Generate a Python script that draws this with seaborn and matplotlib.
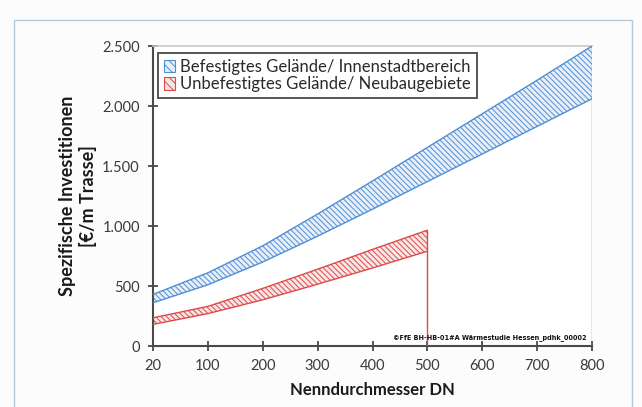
import matplotlib
matplotlib.use("Agg")
import matplotlib.pyplot as plt
import matplotlib.patches as mpatches
import numpy as np
import pandas as pd
import seaborn as sns

# Nominal diameters (category axis)
dn_labels = ["20", "100", "200", "300", "400", "500", "600", "700", "800"]

# Paved ground / inner city: specific investment band [€/m route]
paved_low = [360, 510, 700, 915, 1140, 1370, 1600, 1830, 2060]
paved_high = [430, 610, 835, 1100, 1375, 1655, 1935, 2215, 2500]

# Unpaved ground / new development areas (up to DN 500)
unpaved_low = [180, 270, 385, 515, 650, 790]
unpaved_high = [235, 330, 480, 640, 805, 965]

y_ticks = [0, 500, 1000, 1500, 2000, 2500]
y_tick_labels = ["0", "500", "1.000", "1.500", "2.000", "2.500"]

legend_labels = ["Befestigtes Gelände/ Innenstadtbereich",
                 "Unbefestigtes Gelände/ Neubaugebiete"]

sns.set_theme(style="white")
plt.rcParams["font.family"] = ["Lato", "DejaVu Sans"]
plt.rcParams["hatch.linewidth"] = 0.7

blue = "#4f8fd6"
red = "#de4a4a"

fig = plt.figure(figsize=(6.42, 4.07), dpi=100)
fig.patch.set_facecolor("#fcfcfc")

# thin outer frame of the chart object
fig.patches.append(mpatches.Rectangle((14 / 642, -0.01), (632 - 14) / 642, 1 - 20 / 407 + 0.01,
                                      transform=fig.transFigure, fill=False,
                                      edgecolor="#b7c9dc", linewidth=1.0))

ax = fig.add_axes([153 / 642, 1 - 346 / 407, (592 - 153) / 642, (346 - 46) / 407])
ax.set_facecolor("white")

pos_p = np.arange(len(paved_low))
pos_u = np.arange(len(unpaved_low))

df_p = pd.DataFrame({"pos": pos_p, "low": paved_low, "high": paved_high})
df_u = pd.DataFrame({"pos": pos_u, "low": unpaved_low, "high": unpaved_high})

# hatched bands
ax.fill_between(df_p["pos"], df_p["low"], df_p["high"], facecolor="#e8eff8",
                edgecolor=blue, hatch="\\\\\\\\\\\\", linewidth=0, zorder=2)
ax.fill_between(df_u["pos"], df_u["low"], df_u["high"], facecolor="#f8e6e6",
                edgecolor=red, hatch="\\\\\\\\\\\\", linewidth=0, zorder=2)

# band outlines
for df, c in ((df_p, blue), (df_u, red)):
    sns.lineplot(data=df, x="pos", y="low", color=c, linewidth=1.0, ax=ax, zorder=3)
    sns.lineplot(data=df, x="pos", y="high", color=c, linewidth=1.0, ax=ax, zorder=3)

# drop lines at the end of each band
ax.vlines(pos_p[-1], 0, paved_high[-1], color=blue, linewidth=1.0, zorder=3)
ax.vlines(pos_u[-1], 0, unpaved_high[-1], color=red, linewidth=1.0, zorder=3)

ax.set_xlim(0, len(dn_labels) - 1)
ax.set_ylim(0, 2500)
ax.set_xticks(np.arange(len(dn_labels)))
ax.set_xticklabels(dn_labels)
ax.set_yticks(y_ticks)
ax.set_yticklabels(y_tick_labels)

ax.tick_params(axis="both", which="both", direction="inout", length=7, width=1.3,
               color="#4a4a4a", labelsize=10.5, labelcolor="#3a3a3a", pad=6)
ax.tick_params(axis="x", bottom=True)
ax.tick_params(axis="y", left=True)

for side in ("left", "bottom"):
    ax.spines[side].set_color("#4a4a4a")
    ax.spines[side].set_linewidth(1.5)
ax.spines["top"].set_color("#c8c8c8")
ax.spines["top"].set_linewidth(1.2)
ax.spines["right"].set_visible(False)

ax.set_xlabel("Nenndurchmesser DN", fontsize=12, fontweight="bold", color="#1a1a1a", labelpad=6)
ax.set_ylabel("Spezifische Investitionen\n[€/m Trasse]", fontsize=13, fontweight="bold",
              color="#1a1a1a", labelpad=4, linespacing=1.15)

handles = [mpatches.Patch(facecolor="#e8eff8", edgecolor=blue, hatch="\\\\\\\\", linewidth=0.8),
           mpatches.Patch(facecolor="#f8e6e6", edgecolor=red, hatch="\\\\\\\\", linewidth=0.8)]
leg = ax.legend(handles, legend_labels, loc="upper left", bbox_to_anchor=(0.011, 0.977),
                borderaxespad=0, frameon=True, fancybox=False, fontsize=12,
                handlelength=0.7, handleheight=0.8, handletextpad=0.3,
                labelspacing=0.1, borderpad=0.35)
leg.get_frame().set_edgecolor("#2a2a2a")
leg.get_frame().set_linewidth(1.4)
for t in leg.get_texts():
    t.set_color("#2a2a2a")

fig.text(393 / 642, 1 - 339 / 407, "©FfE BH-HB-01#A Wärmestudie Hessen_pdhk_00002",
         fontsize=4.7, fontweight="bold", color="#111111", family="DejaVu Sans Condensed")

fig.savefig("out.png", dpi=100, facecolor=fig.get_facecolor())
